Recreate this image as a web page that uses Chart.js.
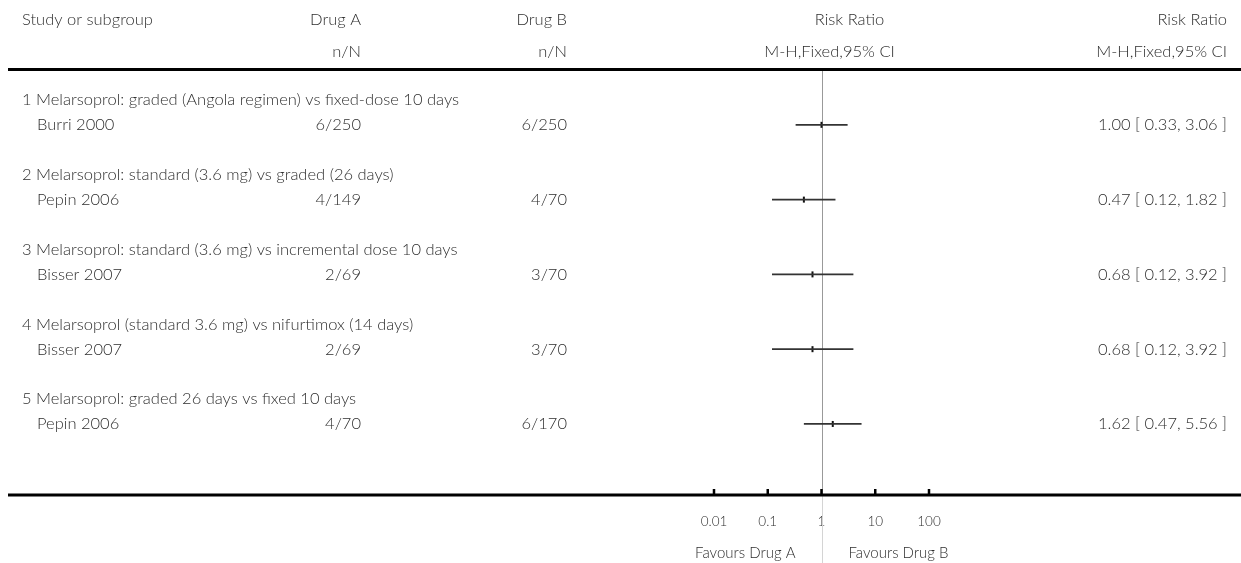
<!DOCTYPE html>
<html>
<head>
<meta charset="utf-8">
<script src="https://cdn.jsdelivr.net/npm/chart.js@4"></script>
<style>
  body { margin: 0; background: #fff; }
  #wrap { width: 1241px; height: 563px; }
</style>
</head>
<body>
<div id="wrap"><canvas id="forest" width="1241" height="563"></canvas></div>
<script>
// ── Data ──────────────────────────────────────────────────────
const groups  = [
  '1 Melarsoprol: graded (Angola regimen) vs fixed-dose 10 days',
  '2 Melarsoprol: standard (3.6 mg) vs graded (26 days)',
  '3 Melarsoprol: standard (3.6 mg) vs incremental dose 10 days',
  '4 Melarsoprol (standard 3.6 mg) vs nifurtimox (14 days)',
  '5 Melarsoprol: graded 26 days vs fixed 10 days'
];
const studies = ['Burri 2000', 'Pepin 2006', 'Bisser 2007', 'Bisser 2007', 'Pepin 2006'];
const drugA   = ['6/250', '4/149', '2/69', '2/69', '4/70'];
const drugB   = ['6/250', '4/70', '3/70', '3/70', '6/170'];
const rr      = [1.00, 0.47, 0.68, 0.68, 1.62];
const ciLow   = [0.33, 0.12, 0.12, 0.12, 0.47];
const ciHigh  = [3.06, 1.82, 3.92, 3.92, 5.56];

const tickValues = [0.01, 0.1, 1, 10, 100];
const tickLabels = ['0.01', '0.1', '1', '10', '100'];

// row numbers on the y scale: heading = 1 + 3i, study = 2 + 3i
const studyRow   = studies.map((_, i) => 2 + 3 * i);
const headingRow = groups.map((_, i) => 1 + 3 * i);

// ── Style ─────────────────────────────────────────────────────
const FONT  = 'Lato, "Open Sans", sans-serif';
const INK   = '#2e2e2e';
const TEXT  = '300 16.5px ' + FONT;

// ── Datasets ──────────────────────────────────────────────────
const ciSets = studies.map((s, i) => ({
  label: s + ' CI',
  data: [{ x: ciLow[i], y: studyRow[i] }, { x: ciHigh[i], y: studyRow[i] }],
  showLine: true,
  borderColor: '#333',
  borderWidth: 1.8,
  pointRadius: 0
}));

const pointSet = {
  label: 'Risk Ratio',
  data: rr.map((v, i) => ({ x: v, y: studyRow[i] })),
  showLine: false,
  pointStyle: 'line',
  rotation: 90,
  pointRadius: 3,
  borderColor: '#111',
  borderWidth: 2
};

// ── Table text, rules and axis decorations ────────────────────
const forestPlugin = {
  id: 'forestPlugin',
  beforeDatasetsDraw(chart) {
    const { ctx, chartArea, scales: { x } } = chart;
    const cx = Math.round(x.getPixelForValue(1)) + 0.5;
    ctx.save();
    ctx.lineWidth = 1;
    ctx.strokeStyle = '#999';
    ctx.beginPath();
    ctx.moveTo(cx, chartArea.top);
    ctx.lineTo(cx, chartArea.bottom);
    ctx.stroke();
    ctx.strokeStyle = '#d4d4d4';
    ctx.beginPath();
    ctx.moveTo(cx, chartArea.bottom);
    ctx.lineTo(cx, chart.height);
    ctx.stroke();
    ctx.restore();
  },
  afterDraw(chart) {
    const { ctx, chartArea, scales: { x, y } } = chart;
    const cx = x.getPixelForValue(1);
    ctx.save();

    // rules
    ctx.fillStyle = '#000';
    ctx.fillRect(8, chartArea.top - 2, chart.width - 8, 3);
    ctx.fillRect(8, chartArea.bottom - 1.5, chart.width - 8, 3);

    // tick marks pointing up
    tickValues.forEach(v => {
      const px = x.getPixelForValue(v);
      ctx.fillRect(px - 1.25, chartArea.bottom - 6, 2.5, 6);
    });

    ctx.fillStyle = INK;
    ctx.textBaseline = 'middle';
    ctx.font = TEXT;

    // header
    ctx.textAlign = 'left';
    ctx.fillText('Study or subgroup', 22, 20);
    ctx.textAlign = 'right';
    ctx.fillText('Drug A', 361, 20);
    ctx.fillText('Drug B', 567, 20);
    ctx.fillText('n/N', 361, 52);
    ctx.fillText('n/N', 567, 52);
    ctx.fillText('Risk Ratio', 1227, 20);
    ctx.fillText('M-H,Fixed,95% CI', 1227, 52);
    ctx.textAlign = 'center';
    ctx.fillText('Risk Ratio', cx + 28, 20);
    ctx.fillText('M-H,Fixed,95% CI', cx + 8, 52);

    // rows
    groups.forEach((g, i) => {
      ctx.textAlign = 'left';
      ctx.fillText(g, 22, y.getPixelForValue(headingRow[i]));
    });
    studies.forEach((s, i) => {
      const py = y.getPixelForValue(studyRow[i]);
      ctx.textAlign = 'left';
      ctx.fillText(s, 37, py);
      ctx.textAlign = 'right';
      ctx.fillText(drugA[i], 361, py);
      ctx.fillText(drugB[i], 567, py);
      const ci = rr[i].toFixed(2) + ' [ ' + ciLow[i].toFixed(2) + ', ' + ciHigh[i].toFixed(2) + ' ]';
      ctx.fillText(ci, 1227, py);
    });

    // favours labels
    ctx.font = '300 15px ' + FONT;
    ctx.textAlign = 'right';
    ctx.fillText('Favours Drug A', cx - 26, 553);
    ctx.textAlign = 'left';
    ctx.fillText('Favours Drug B', cx + 27, 553);

    ctx.restore();
  }
};

// ── Chart ─────────────────────────────────────────────────────
new Chart(document.getElementById('forest'), {
  type: 'scatter',
  data: { datasets: [...ciSets, pointSet] },
  plugins: [forestPlugin],
  options: {
    animation: false,
    responsive: false,
    layout: { padding: { left: 714, right: 312, top: 70, bottom: 0 } },
    plugins: {
      legend:  { display: false },
      tooltip: { enabled: false }
    },
    scales: {
      x: {
        type: 'logarithmic',
        min: 0.01,
        max: 100,
        afterBuildTicks: s => { s.ticks = tickValues.map(v => ({ value: v })); },
        afterFit: s => { s.height = 68; },
        ticks: {
          autoSkip: false,
          maxRotation: 0,
          padding: 19,
          color: INK,
          font: { family: FONT, size: 13.5, weight: '300' },
          callback: (v) => tickLabels[tickValues.indexOf(v)]
        },
        grid:   { display: false, drawTicks: false },
        border: { display: false }
      },
      y: {
        type: 'linear',
        reverse: true,
        min: -0.2,
        max: 16.85,
        display: false
      }
    }
  }
});
</script>
</body>
</html>
